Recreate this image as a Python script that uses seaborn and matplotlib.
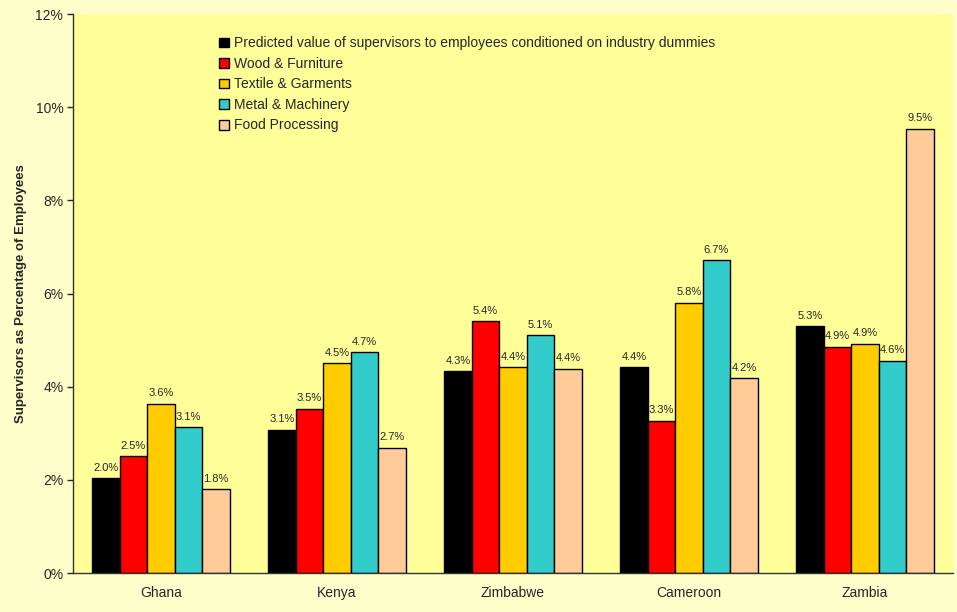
import numpy as np
import pandas as pd
import seaborn as sns
import matplotlib.pyplot as plt

# values (percent)
countries = ['Ghana', 'Kenya', 'Zimbabwe', 'Cameroon', 'Zambia']
series_names = ['Predicted value of supervisors to employees conditioned on industry dummies',
                'Wood & Furniture', 'Textile & Garments', 'Metal & Machinery', 'Food Processing']
predicted = [2.03, 3.08, 4.33, 4.42, 5.30]
wood = [2.51, 3.53, 5.40, 3.27, 4.86]
textile = [3.63, 4.50, 4.42, 5.80, 4.92]
metal = [3.13, 4.74, 5.10, 6.71, 4.56]
food = [1.80, 2.69, 4.39, 4.18, 9.54]
colors = ['#000000', '#FF0000', '#FFCC00', '#33CCCC', '#FFCC99']

# long format for seaborn
rows = []
for name, vals in zip(series_names, [predicted, wood, textile, metal, food]):
    for c, v in zip(countries, vals):
        rows.append({'country': c, 'series': name, 'value': v})
data = pd.DataFrame(rows)

sns.set_style('white')
plt.rcParams['font.family'] = ['Liberation Sans', 'DejaVu Sans']

fig = plt.figure(figsize=(9.57, 6.12), dpi=100)
fig.patch.set_facecolor('#FFFFCC')
ax = fig.add_axes([0.0763, 0.0637, 0.9195, 0.9134])
ax.set_facecolor('#FFFF99')

sns.barplot(data=data, x='country', y='value', hue='series', hue_order=series_names,
            order=countries, palette=colors, width=0.78, edgecolor='black',
            linewidth=1, errorbar=None, ax=ax, saturation=1)

for cont in ax.containers:
    ax.bar_label(cont, labels=['%.1f%%' % b.get_height() for b in cont],
                 padding=4, fontsize=8)

ax.set_ylim(0, 12)
ax.set_yticks(np.arange(0, 13, 2))
ax.set_yticklabels(['%d%%' % t for t in np.arange(0, 13, 2)], fontsize=10)
ax.set_xlim(-0.5, 4.5)
ax.tick_params(axis='x', length=0, labelsize=10, pad=9)
ax.tick_params(axis='y', length=4, width=1, direction='out', left=True, pad=3)
ax.set_xlabel('')
ax.set_ylabel('Supervisors as Percentage of Employees', fontsize=9.5, fontweight='bold', labelpad=6)

for s in ['top', 'right']:
    ax.spines[s].set_visible(False)
for s in ['left', 'bottom']:
    ax.spines[s].set_color('#333333')
    ax.spines[s].set_linewidth(1)

leg = ax.legend(loc='upper left', bbox_to_anchor=(0.16, 0.97), frameon=False,
                fontsize=10, handlelength=0.72, handleheight=0.72, handletextpad=0.3,
                labelspacing=0.47, borderaxespad=0)
for h in leg.legend_handles:
    h.set_edgecolor('black')
    h.set_linewidth(1)

fig.savefig('out.png', dpi=100, facecolor=fig.get_facecolor())
